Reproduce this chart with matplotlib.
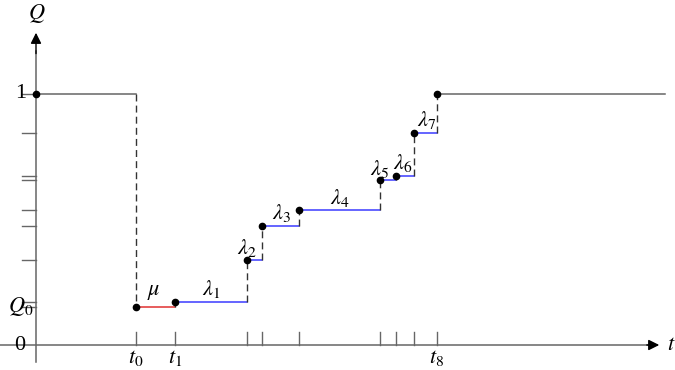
import matplotlib
matplotlib.use("Agg")
import matplotlib.pyplot as plt

plt.rcParams['font.family'] = ['Liberation Serif', 'DejaVu Serif']
plt.rcParams['mathtext.fontset'] = 'stix'

# step levels (Q) and switch times (t)
t_steps = [1.00, 1.39, 2.11, 2.26, 2.63, 3.44, 3.60, 3.78, 4.01]
q_steps = [0.151, 0.171, 0.339, 0.474, 0.538, 0.657, 0.673, 0.845, 1.0]
seg_labels = [r'$\mu$', r'$\lambda_1$', r'$\lambda_2$', r'$\lambda_3$', r'$\lambda_4$',
              r'$\lambda_5$', r'$\lambda_6$', r'$\lambda_7$']
seg_colors = ['#e03030'] + ['#3a3aff'] * 7
t_end = 6.29
x_tick_labels = {0: r'$t_0$', 1: r'$t_1$', 8: r'$t_8$'}
y_ticks = [1.0, 0.845, 0.673, 0.657, 0.538, 0.474, 0.339, 0.171, 0.151]

fig = plt.figure(figsize=(6.75, 3.7), dpi=100)
ax = fig.add_axes([0, 0, 1, 1])
ax.set_xlim(-0.36, 6.39)
ax.set_ylim(-0.0996, 1.3745)
ax.axis('off')

axc = '#666666'
fs = 16
# axes with arrows
ax.plot([-0.36, 6.15], [0, 0], color=axc, lw=1.1)
ax.plot([0, 0], [-0.068, 1.17], color=axc, lw=1.1)
ax.annotate('', xy=(6.26, 0), xytext=(6.08, 0),
            arrowprops=dict(arrowstyle='-|>', color='black', lw=1, mutation_scale=16))
ax.annotate('', xy=(0, 1.255), xytext=(0, 1.15),
            arrowprops=dict(arrowstyle='-|>', color='black', lw=1, mutation_scale=16))
ax.text(0.01, 1.32, r'$Q$', fontsize=fs, ha='center', va='center')
ax.text(6.31, 0.0, r'$t$', fontsize=fs, ha='left', va='center')

# y ticks (outside, left)
for q in y_ticks:
    ax.plot([-0.14, 0], [q, q], color=axc, lw=1.0)
ax.text(-0.15, 1.0, '1', fontsize=fs, ha='center', va='center')
ax.text(-0.03, 0.153, r'$Q_0$', fontsize=fs, ha='right', va='center')
ax.text(-0.16, 0.0, '0', fontsize=fs, ha='center', va='center')

# x ticks (inside, up)
for i, t in enumerate(t_steps):
    ax.plot([t, t], [0, 0.05], color=axc, lw=1.0)
    if i in x_tick_labels:
        ax.text(t, -0.05, x_tick_labels[i], fontsize=fs, ha='center', va='center')

# initial level 1 and drop
ax.plot([0, t_steps[0]], [1, 1], color=axc, lw=1.1)
ax.plot([t_steps[0], t_steps[0]], [1, q_steps[0]], color='#333333', lw=1, ls=(0, (5, 3)))
ax.plot([0], [1], 'o', color='black', ms=4.5)

# steps
for i in range(len(t_steps) - 1):
    t_a, t_b = t_steps[i], t_steps[i + 1]
    q_a, q_b = q_steps[i], q_steps[i + 1]
    ax.plot([t_a, t_b], [q_a, q_a], color=seg_colors[i], lw=1.1)
    ax.plot([t_b, t_b], [q_a, q_b], color='#333333', lw=1, ls=(0, (5, 3)))
    ax.plot([t_a], [q_a], 'o', color='black', ms=4.5)

ax.plot([t_steps[-1], t_end], [1, 1], color=axc, lw=1.1)
ax.plot([t_steps[-1]], [1], 'o', color='black', ms=4.5)

# segment labels
lab_pos = [(1.18, 0.21), (1.75, 0.225), (2.11, 0.385), (2.46, 0.525), (3.04, 0.585),
           (3.44, 0.70), (3.67, 0.725), (3.91, 0.895)]
for (x, y), s in zip(lab_pos, seg_labels):
    ax.text(x, y, s, fontsize=fs, ha='center', va='center')

fig.savefig('out.png', dpi=100)
